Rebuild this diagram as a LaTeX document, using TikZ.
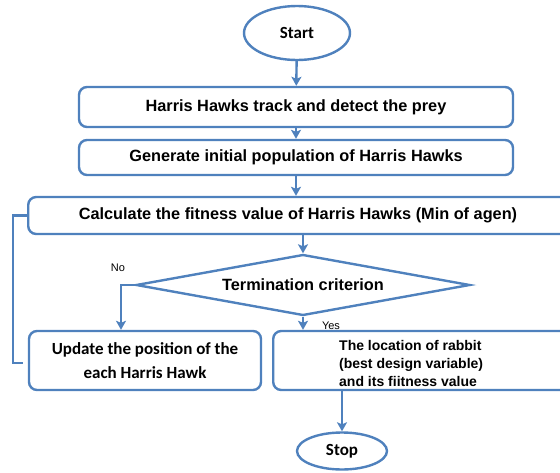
\documentclass[tikz,border=0pt]{standalone}
\usepackage{fontspec}
\setmainfont{Liberation Sans}
\newfontfamily\carlfont{Carlito}
\usetikzlibrary{shapes.geometric,arrows.meta}
\definecolor{hblue}{RGB}{79,129,189}
\tikzset{
  x=1pt, y=-1pt,
  line/.style={draw=hblue, line width=2.4pt},
  arr/.style={line, -{Stealth[length=9pt,width=10pt,inset=2pt]}},
  boxstyle/.style={draw=hblue, line width=2.4pt, rounded corners=8pt, inner sep=0pt, fill=white},
  ovalstyle/.style={ellipse, draw=hblue, line width=2.4pt, inner sep=0pt, fill=white},
  maintext/.style={font=\fontsize{16.3}{19}\selectfont\bfseries},
  carltext/.style={font=\carlfont\fontsize{17}{24}\selectfont\bfseries},
  lbl/.style={font=\fontsize{11}{13}\selectfont, inner sep=0pt}
}
\begin{document}
\begin{tikzpicture}
\useasboundingbox (0,0) rectangle (560,472);
\node[ovalstyle, carltext, minimum width=106pt, minimum height=54pt] (start) at (297,33) {Start};
\node[boxstyle, maintext, minimum width=434pt, minimum height=40pt] (b1) at (296,107) {Harris Hawks track and detect the prey};
\node[boxstyle, maintext, minimum width=434pt, minimum height=35pt] (b2) at (296,157.5) {Generate initial population of Harris Hawks};
\node[boxstyle, maintext, minimum width=548pt, minimum height=37pt, anchor=west] (b3) at (27,215.5) {};
\node[maintext, inner sep=0pt] (b3t) at (298,215.5) {Calculate the fitness value of Harris Hawks (Min of agen)};
\node[diamond, draw=hblue, line width=2.4pt, inner sep=0pt, aspect=5.5, minimum width=334pt, minimum height=61pt, maintext] (d) at (303,285) {Termination criterion};
\node[boxstyle, carltext, minimum width=232pt, minimum height=59pt, align=center] (b4) at (145,360.5) {Update the position of the\\each Harris Hawk};
\node[boxstyle, minimum width=303pt, minimum height=59pt, anchor=west] (b5) at (272,360.5) {};
\node[font=\fontsize{14}{18}\selectfont\bfseries, align=left, anchor=west, inner sep=0pt] (b5t) at (339,363) {The location of rabbit\\(best design variable)\\and its fiitness value};
\node[ovalstyle, carltext, minimum width=90pt, minimum height=37pt] (stop) at (342,451) {Stop};
% connectors
\draw[arr] (start) -- (b1);
\draw[arr] (b1) -- (b2);
\draw[arr] (b2.south) -- (b2.south |- b3.north);
\draw[arr] (b3.north -| d.north) ++(0,37) -- (d.north);
\coordinate (nobend) at (121,285);
\draw[arr] (d.west) -- (nobend) -- (nobend |- b4.north);
\draw[arr] (d.south) -- (d.south |- b5.north);
\draw[arr] (stop.north |- b5.south) -- (stop.north);
\draw[line] (b4.west) ++(-5,2.5) -- ++(-10,0) |- (b3.west);
\node[lbl] at (118,268) {No};
\node[lbl] at (331,326) {Yes};
\end{tikzpicture}
\end{document}
